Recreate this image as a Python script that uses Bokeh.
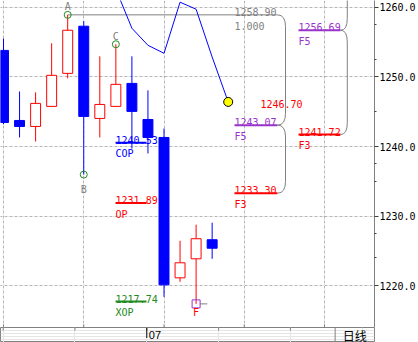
from bokeh.plotting import figure
from bokeh.layouts import column
from bokeh.models import (Range1d, LinearAxis, FixedTicker, Grid, PrintfTickFormatter,
                          ColumnDataSource, Label, Span)
from bokeh.core.properties import value
from bokeh.embed import file_html
from bokeh.resources import INLINE

# ---- candle data (daily bars) ----
idx = list(range(14))
opens = [1253.80, 1243.74, 1242.88, 1245.76, 1250.50, 1257.27, 1244.03,
         1245.76, 1249.06, 1243.88, 1241.30, 1221.15, 1223.88, 1226.62]
highs = [1255.50, 1247.90, 1247.77, 1254.82, 1258.90, 1257.99, 1252.95,
         1254.68, 1252.95, 1248.06, 1242.59, 1226.47, 1228.78, 1229.06]
lows = [1243.20, 1241.30, 1240.72, 1245.76, 1249.78, 1235.97, 1241.30,
        1245.76, 1239.71, 1239.00, 1218.42, 1220.58, 1217.41, 1223.88]
closes = [1243.45, 1242.88, 1246.19, 1250.22, 1256.69, 1244.32, 1246.04,
          1248.92, 1245.04, 1241.30, 1220.14, 1223.31, 1226.76, 1225.40]

# ---- indicator line ----
ind_x = [7, 8, 9, 10, 11, 12, 13, 14]
ind_y = [1262.60, 1256.98, 1254.53, 1253.38, 1260.72, 1259.71, 1252.85, 1246.40]

# ---- projection levels ----
lvl_names = ["F5", "F3", "F5", "F3", "COP", "OP", "XOP"]
lvl_values = [1243.07, 1233.30, 1256.69, 1241.72, 1240.53, 1231.89, 1217.74]
lvl_start = [14.39, 14.39, 18.38, 18.38, 6.98, 6.98, 6.98]
lvl_end = [17.07, 17.07, 21.0, 21.0, 8.91, 8.91, 8.91]
lvl_colors = ["#9933CC", "#FF0000", "#9933CC", "#FF0000", "#0000FF", "#FF0000", "#228B22"]

# reference level from A
ref_value = 1258.90
ref_ratio = "1.000"
ref_start = 4
ref_end = 17.07
mid_value = 1246.70
mid_x = 16.01

# pivots
piv_names = ["A", "B", "C"]
piv_x = [4, 5, 7]
piv_y = [1258.90, 1235.97, 1254.68]
f_x = 12
f_y = 1217.41

ytick_vals = [1220, 1230, 1240, 1250, 1260]
ytick_minor = [1224, 1227.5, 1235, 1237.5, 1245, 1252.5, 1257.5]
xtick_vals = [0, 5, 10, 15, 20]
date_tick = 10
date_label = "07"
period_text = "日线"

MONO = "DejaVu Sans Mono"
GRAY = "#808080"
X0, X1 = -0.187, 23.115
Y0, Y1 = 1214.02, 1260.96

p = figure(width=418, height=327, x_range=Range1d(X0, X1),
           y_range=Range1d(Y0, Y1), toolbar_location=None,
           output_backend="svg", x_axis_location=None, y_axis_location=None,
           min_border_left=0, min_border_top=0, min_border_right=44,
           min_border_bottom=0, background_fill_color="white",
           border_fill_color="white", outline_line_color=None)

p.add_layout(Grid(dimension=0, ticker=FixedTicker(ticks=xtick_vals),
                  grid_line_color=GRAY, grid_line_dash="1 4"))
p.add_layout(Grid(dimension=1, ticker=FixedTicker(ticks=ytick_vals),
                  grid_line_color=GRAY, grid_line_dash="1 4"))
# short inner tick marks at the bottom edge
p.segment(x0=xtick_vals, y0=[Y0] * len(xtick_vals), x1=xtick_vals,
          y1=[Y0 + 0.45] * len(xtick_vals), line_color=GRAY)

yax = LinearAxis(ticker=FixedTicker(ticks=ytick_vals, minor_ticks=ytick_minor),
                 formatter=PrintfTickFormatter(format="%.1f"),
                 axis_line_color=GRAY, major_tick_in=0, major_tick_out=4,
                 minor_tick_in=0, minor_tick_out=2,
                 major_tick_line_color="#404040", minor_tick_line_color="#404040",
                 major_label_standoff=1, major_label_text_font=MONO,
                 major_label_text_font_size="10px", major_label_text_color="black")
p.add_layout(yax, "right")

# ---- levels ----
p.segment(x0=[ref_start], y0=[ref_value], x1=[ref_end], y1=[ref_value],
          line_color=GRAY, line_width=1)
p.text(x=[lvl_start[0]], y=[ref_value], text=[f"{ref_value:.2f}"], text_color=GRAY,
       text_font=value(MONO), text_font_size="10px", text_baseline="alphabetic", y_offset=-3)
p.text(x=[lvl_start[0]], y=[ref_value], text=[ref_ratio], text_color=GRAY,
       text_font=value(MONO), text_font_size="10px", text_baseline="alphabetic", y_offset=11)
p.text(x=[mid_x], y=[mid_value], text=[f"{mid_value:.2f}"], text_color="#FF0000",
       text_font=value(MONO), text_font_size="10px", text_baseline="middle", y_offset=4)

src = ColumnDataSource(dict(x0=lvl_start, x1=lvl_end, y=lvl_values, c=lvl_colors,
                            num=[f"{v:.2f}" for v in lvl_values], name=lvl_names))
p.segment(x0="x0", y0="y", x1="x1", y1="y", line_color="c", line_width=2, source=src)
p.text(x="x0", y="y", text="num", text_color="c", text_font=value(MONO),
       text_font_size="10px", text_baseline="alphabetic", y_offset=-3, source=src)
p.text(x="x0", y="y", text="name", text_color="c", text_font=value(MONO),
       text_font_size="10px", text_baseline="alphabetic", y_offset=11, source=src)

# ---- brackets ----
def bracket(x_end, dx, top, bot, h):
    p.quadratic(x0=[x_end], y0=[top], x1=[x_end + dx], y1=[top - h],
                cx=[x_end + dx], cy=[top], line_color=GRAY)
    p.segment(x0=[x_end + dx], y0=[top - h], x1=[x_end + dx], y1=[bot + h], line_color=GRAY)
    p.quadratic(x0=[x_end + dx], y0=[bot + h], x1=[x_end], y1=[bot],
                cx=[x_end + dx], cy=[bot], line_color=GRAY)

bracket(ref_end, 0.5, ref_value, lvl_values[0], 1.7)
bracket(ref_end, 0.5, lvl_values[0], lvl_values[1], 1.7)
bracket(lvl_end[2], 0.42, 1268.0, lvl_values[2], 1.7)
bracket(lvl_end[2], 0.42, lvl_values[2], lvl_values[3], 1.7)

# ---- candles ----
up = [c >= o for o, c in zip(opens, closes)]
col = ["#FF0000" if u else "#0000FF" for u in up]
fill = ["white" if u else "#0000FF" for u in up]
csrc = ColumnDataSource(dict(x=idx, h=highs, l=lows,
                             t=[max(o, c) for o, c in zip(opens, closes)],
                             b=[min(o, c) for o, c in zip(opens, closes)],
                             col=col, fill=fill))
p.segment(x0="x", y0="h", x1="x", y1="l", line_color="col", line_width=1, source=csrc)
p.vbar(x="x", width=0.62, top="t", bottom="b", fill_color="fill", line_color="col",
       line_width=1, source=csrc)

# ---- indicator line ----
p.line(ind_x, ind_y, line_color="#0000FF", line_width=1)
p.scatter([ind_x[-1]], [ind_y[-1]], size=9, fill_color="#FFFF00", line_color="black")

# ---- pivots ----
p.scatter(piv_x, piv_y, marker="circle", size=7, fill_color=None, line_color="#228B22")
p.text(x=piv_x, y=piv_y, text=piv_names, text_color=GRAY, text_font=value(MONO),
       text_font_size="10px", text_align="center", text_baseline="alphabetic",
       y_offset=[-8, 15, -8])
p.segment(x0=[f_x + 0.25], y0=[f_y], x1=[f_x + 0.7], y1=[f_y], line_color=GRAY)
p.scatter([f_x], [f_y], marker="square", size=8, fill_color=None, line_color="#9933CC")
p.text(x=[f_x], y=[f_y], text=["F"], text_color="#FF0000", text_font=value(MONO),
       text_font_size="10px", text_align="center", text_baseline="alphabetic", y_offset=9)

# ---- current price ----
p.add_layout(Label(x=378, y=closes[-1], x_units="screen", y_units="data",
                   text=f"{closes[-1]:.1f}", text_color="#FF0000", text_font=MONO,
                   text_font_size="10px", text_baseline="middle",
                   background_fill_color="#EEF6EE"))

# ---- time strip (date axis + period box) ----
X2 = X0 + 418 * (X1 - X0) / 374
q = figure(width=418, height=15, x_range=Range1d(X0, X2), y_range=Range1d(0, 1),
           toolbar_location=None, output_backend="svg", x_axis_location=None,
           y_axis_location=None, min_border_left=0, min_border_top=0,
           min_border_right=0, min_border_bottom=0, background_fill_color="white",
           border_fill_color="white", outline_line_color=GRAY)
q.segment(x0=xtick_vals, y0=[0.8] * len(xtick_vals), x1=xtick_vals,
          y1=[1.0] * len(xtick_vals), line_color=GRAY)
q.segment(x0=[date_tick], y0=[0.3], x1=[date_tick], y1=[1.0], line_color="black")
q.add_layout(Span(location=X1, dimension="height", line_color=GRAY, line_width=1))
q.text(x=[date_tick], y=[0.5], text=[date_label], text_font=value("Liberation Sans"),
       text_font_size="11px", text_color="black", text_baseline="middle", x_offset=2)
q.text(x=[(X1 + X2) / 2], y=[0.5], text=[period_text], text_font=value("Noto Sans CJK SC"),
       text_font_size="12px", text_color="black", text_align="center",
       text_baseline="middle")

layout = column(p, q, spacing=0)
open("out.html", "w").write(file_html(layout, INLINE))
